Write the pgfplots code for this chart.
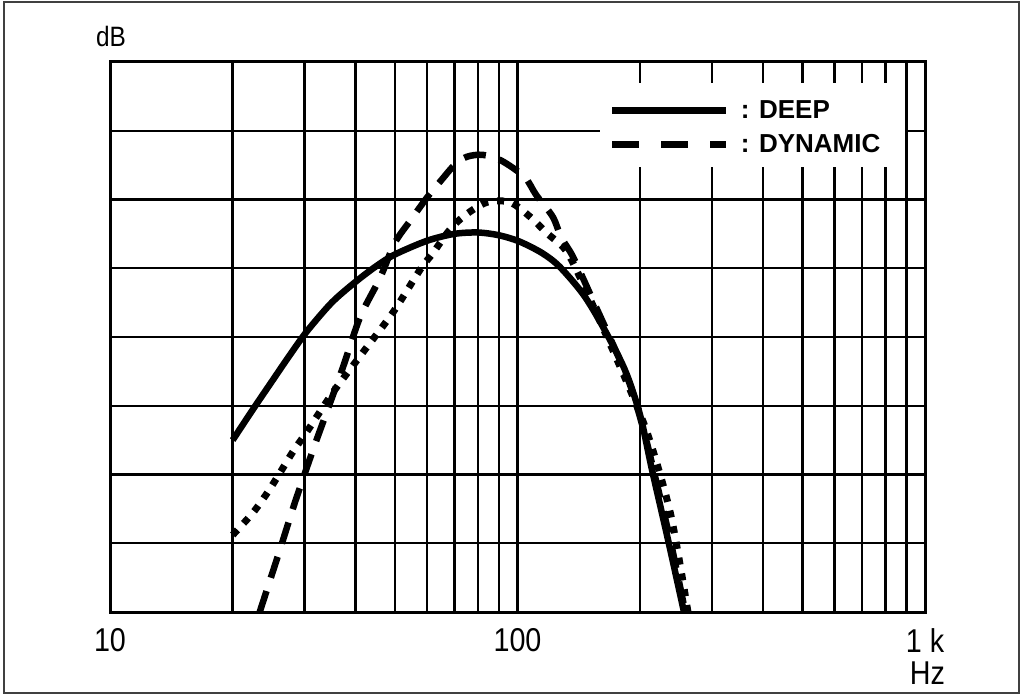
\documentclass[border=0pt]{standalone}
\usepackage{fontspec}
\setmainfont[FakeStretch=0.87]{Liberation Sans}
\newfontfamily\legfont{Liberation Sans}
\usepackage{pgfplots}
\pgfplotsset{compat=1.18}
\begin{document}
\begin{tikzpicture}[x=1pt,y=1pt]
\useasboundingbox (-110,-82) rectangle (911,612);
\draw[line width=2pt, black!75] (-106,-81) rectangle (909,610);
\begin{axis}[
  at={(0,0)}, anchor=south west,
  xmode=log, xmin=10, xmax=1000, ymin=0, ymax=8,
  width=815pt, height=550pt, scale only axis,
  clip mode=individual,
  xtick={10,100,1000}, xticklabels={10,100,1 k},
  minor xtick={20,30,40,50,60,70,80,90,200,300,400,500,600,700,800,900},
  ytick={0,1,2,3,4,5,6,7,8}, yticklabels={},
  grid=both,
  major grid style={black, line width=2.4pt},
  minor grid style={black, line width=2.4pt},
  major tick length=0pt, minor tick length=0pt,
  axis line style={line width=3pt},
  tick label style={font=\fontsize{33}{33}\selectfont},
  /pgf/number format/assume math mode=true,
  xticklabel style={inner sep=0pt, yshift=-16pt},
  legend image code/.code={\draw[#1] (0pt,0pt) -- (114pt,0pt);},
  legend style={draw=none, fill=none, inner sep=0pt, outer sep=0pt,
    at={(rel axis cs:0.612,0.929)}, anchor=north west,
    font=\legfont\bfseries\fontsize{26}{26}\selectfont,
    row sep=14pt, column sep=11pt, nodes={inner sep=0pt}},
  legend cell align=left,
]
\fill[white] (axis cs:159,6.47) rectangle (axis cs:895,7.69);
\addlegendimage{black, line width=7pt}
\addlegendentry{: DEEP}
\addlegendimage{black, line width=7pt, dash pattern=on 27pt off 22pt}
\addlegendentry{: DYNAMIC}
% DEEP
\addplot[black, line width=6.5pt, smooth, forget plot] coordinates {
(20,2.50) (22.5,2.96) (25,3.36) (27.5,3.72) (30.4,4.08) (35,4.50) (40,4.80)
(45,5.03) (50,5.20) (60,5.40) (70,5.50) (80,5.52) (90,5.48) (101,5.39)
(115,5.22) (127,5.02) (145,4.62) (162,4.15) (183.5,3.52) (199.8,2.87)
(213.8,2.07) (234.1,1.05) (256.2,0)
};
% DYNAMIC
\addplot[black, line width=6.5pt, smooth, dash pattern=on 22pt off 14pt, forget plot] coordinates {
(23.3,0) (26.1,0.90) (28.4,1.585) (31.5,2.36) (33.7,2.84) (37.3,3.56) (41.1,4.29)
(46.0,4.86) (50,5.37) (55,5.72) (60,6.03) (65,6.28) (70,6.50) (75,6.62) (82,6.65)
(91,6.57) (104,6.33) (111,6.07) (122,5.75) (128,5.45) (137,5.16) (153,4.54)
(185.7,3.42) (203,2.69) (218,1.95) (238,1.00) (258,0)
};
% dotted
\addplot[black, line width=7pt, smooth, dash pattern=on 7pt off 9pt, forget plot] coordinates {
(20,1.12) (22.4,1.44) (24.3,1.73) (26.1,2.02) (28.1,2.33) (30.4,2.62) (35.3,3.2)
(41.8,3.78) (49.5,4.36) (57.7,4.98) (62,5.22) (68,5.55) (74.3,5.77) (84.2,5.96)
(95.8,5.96) (107.3,5.75) (118.1,5.51) (129.3,5.31) (136.8,5.08) (155,4.39)
(189,3.23) (211,2.5) (238,1.40) (262,0)
};
\node[font=\fontsize{28}{28}\selectfont, inner sep=0pt] at (rel axis cs:0.0012,1.046) {dB};
\node[font=\fontsize{33}{33}\selectfont, inner sep=0pt, anchor=north] at (rel axis cs:1.003,0) [yshift=-50pt] {Hz};
\end{axis}
\end{tikzpicture}
\end{document}
